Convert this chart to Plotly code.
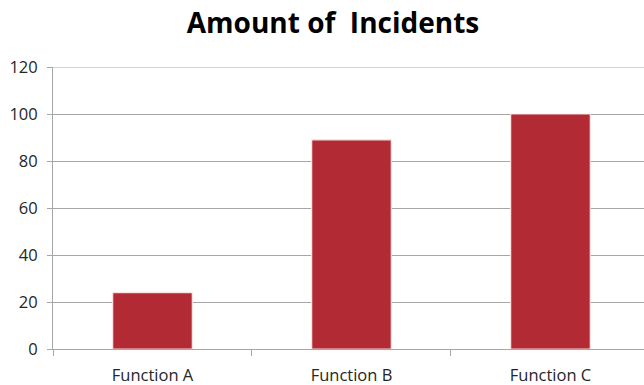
import plotly.graph_objects as go

categories = ["Function A", "Function B", "Function C"]
incidents = [24, 89, 100]
y_ticks = [0, 20, 40, 60, 80, 100, 120]

bar_color = "#B22A33"
grid_color = "#A6A6A6"
text_color = "#262626"

fig = go.Figure(
    go.Bar(
        x=categories,
        y=incidents,
        width=0.4,
        marker=dict(color=bar_color, line=dict(color="rgba(255,235,235,0.9)", width=1.2)),
        hoverinfo="x+y",
    )
)

fig.update_layout(
    width=644,
    height=385,
    margin=dict(l=53, r=0, t=67, b=36),
    paper_bgcolor="white",
    plot_bgcolor="white",
    showlegend=False,
    title=dict(
        text="<b>Amount of  Incidents</b>",
        x=333 / 644,
        xanchor="center",
        y=1 - 23 / 385,
        yanchor="middle",
        font=dict(family="Open Sans", size=28, color="black"),
    ),
    font=dict(family="Open Sans", size=16, color=text_color),
)

# the gridline at the top of the value range sits on the plot edge; draw it explicitly
fig.add_shape(
    type="line",
    xref="paper",
    yref="y",
    x0=0,
    x1=1,
    y0=y_ticks[-1],
    y1=y_ticks[-1],
    line=dict(color=grid_color, width=1),
    layer="below",
)

fig.update_xaxes(
    type="category",
    range=[-0.5, 2.47],
    showline=True,
    linecolor=grid_color,
    linewidth=1,
    ticks="outside",
    tickson="boundaries",
    ticklen=6,
    tickcolor=grid_color,
    showgrid=False,
    tickfont=dict(size=16.5, color=text_color),
    ticklabelstandoff=11,
)

fig.update_yaxes(
    range=[0, 120],
    tickvals=y_ticks,
    showline=True,
    linecolor=grid_color,
    linewidth=1,
    ticks="outside",
    ticklen=5,
    tickcolor=grid_color,
    showgrid=True,
    gridcolor=grid_color,
    gridwidth=1,
    zeroline=False,
    tickfont=dict(size=16.5, color=text_color),
    ticklabelstandoff=6,
)

fig.write_html("out.html")
